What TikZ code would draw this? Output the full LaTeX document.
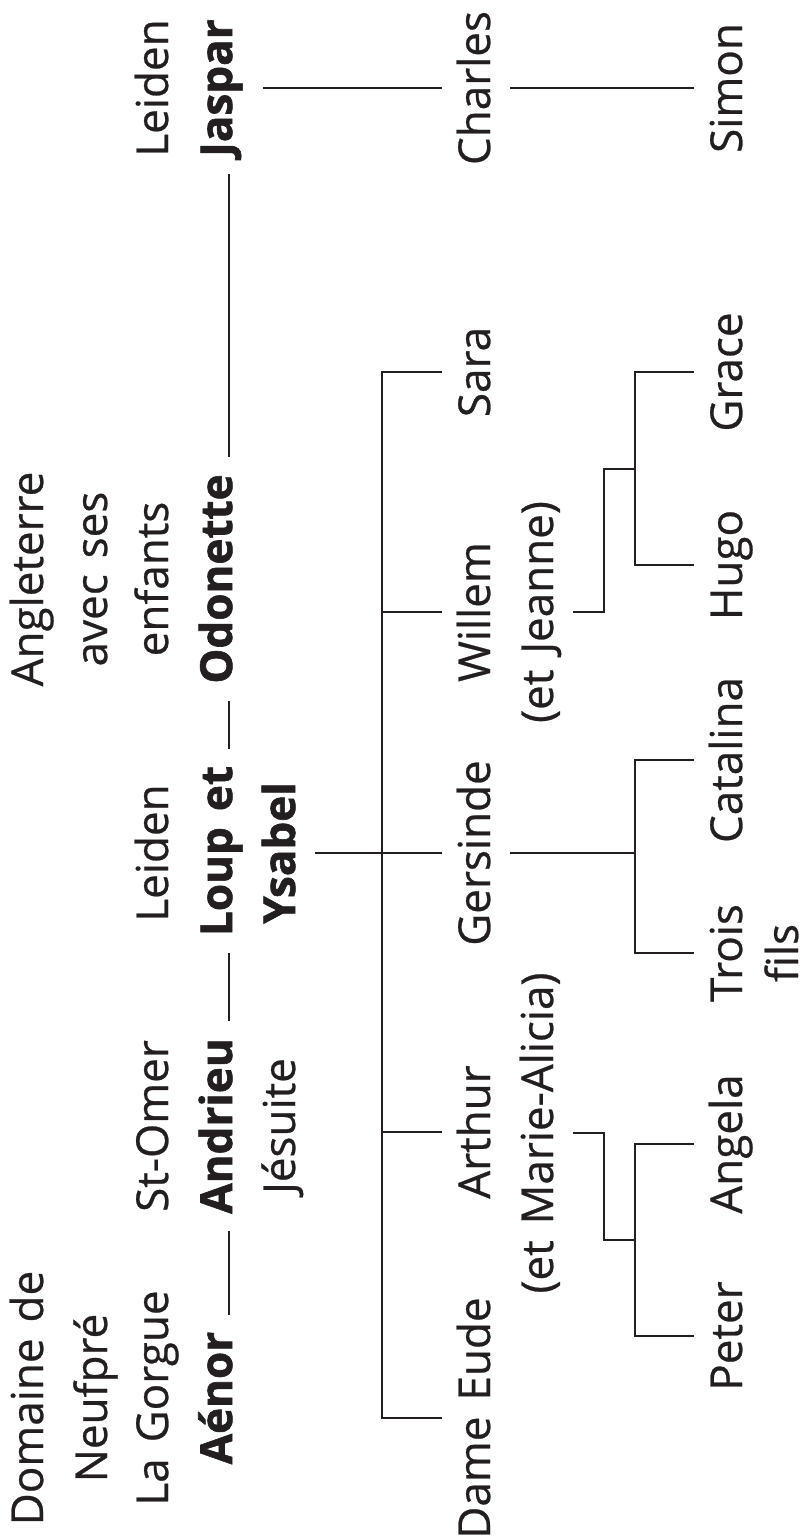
\documentclass[tikz,border=0pt]{standalone}
\usepackage{fontspec}
\setmainfont{Open Sans}[WordSpace=1.4,
  UprightFeatures={FakeBold=0.6}, BoldFeatures={FakeBold=1.4}]
\definecolor{ink}{HTML}{231F20}
\begin{document}
\begin{tikzpicture}[x=1pt,y=-1pt,
  every node/.style={font=\fontsize{44}{50}\selectfont, text=ink},
  nm/.style={rotate=90, anchor=base, inner xsep=17pt, inner ysep=10pt,
             text height=38pt, text depth=10pt},
  hd/.style={nm, font=\fontsize{44}{50}\selectfont\bfseries},
  lnk/.style={draw=ink, line width=2.2pt}]
\useasboundingbox (0,0) rectangle (808,1538);

% first generations, read along the long side
\node[nm] (dom)  at (43,1398)  {Domaine de};
\node[nm] (neuf) at (107,1398) {Neufpré};
\node[nm] (gorg) at (168,1398) {La Gorgue};
\node[hd] (aenor) at (232,1398) {Aénor};

\node[nm] (omer) at (168,1126) {St-Omer};
\node[hd] (andrieu) at (232,1126) {Andrieu};
\node[nm] (jes)  at (295,1126) {Jésuite};

\node[nm] (leid1) at (168,853) {Leiden};
\node[hd] (loup)  at (232,851) {Loup et};
\node[hd] (ysabel) at (295,853) {Ysabel};

\node[nm] (angl) at (43,579)  {Angleterre};
\node[nm] (avec) at (107,579) {avec ses};
\node[nm] (enf)  at (168,579) {enfants};
\node[hd] (odonette) at (232,579) {Odonette};

\node[nm] (leid2) at (168,88) {Leiden};
\node[hd, text depth=21pt] (jaspar) at (232,88) {Jaspar};

% children
\node[nm] (eude)     at (490,1418) {Dame Eude};
\node[nm] (arthur)   at (490,1132) {Arthur};
\node[nm] (marie)    at (553,1133) {(et Marie-Alicia)};
\node[nm] (gersinde) at (490,853)  {Gersinde};
\node[nm] (willem)   at (490,612)  {Willem};
\node[nm] (jeanne)   at (553,612)  {(et Jeanne)};
\node[nm] (sara)     at (490,372)  {Sara};
\node[nm] (charles)  at (490,88)   {Charles};

% grandchildren
\node[nm] (peter)    at (742,1336) {Peter};
\node[nm] (angela)   at (742,1144) {Angela};
\node[nm] (trois)    at (742,953)  {Trois};
\node[nm, text depth=2pt, inner ysep=2pt] (fils) at (798,953) {fils};
\node[nm] (catalina) at (742,760)  {Catalina};
\node[nm] (hugo)     at (742,565)  {Hugo};
\node[nm] (grace)    at (742,372)  {Grace};
\node[nm] (simon)    at (742,88)   {Simon};

% line of succession
\draw[lnk] (aenor.mid east) -- (andrieu.mid west);
\draw[lnk] (andrieu.mid east) -- (loup.mid west);
\draw[lnk] (loup.mid east) -- (odonette.mid west);
\draw[lnk] (odonette.mid east) -- (jaspar.mid west);
\draw[lnk] (jaspar.south) -- (charles.north);
\draw[lnk] (charles.south) -- (simon.north);

% children of Loup and Ysabel
\coordinate (trunk) at (382,853);
\draw[lnk] (sara.north) -| (trunk) |- (eude.north);
\draw[lnk] (willem.north) -| (trunk);
\draw[lnk] (arthur.north) -| (trunk);
\draw[lnk] (ysabel.south) -- (gersinde.north);

% children of Gersinde
\coordinate (gk) at (635,853);
\draw[lnk] (gersinde.south) -- (gk);
\draw[lnk] (catalina.north) -| (gk) |- (trois.north);

% children of Arthur
\coordinate (am) at (604,1240);
\coordinate (ak) at (635,1240);
\draw[lnk] (marie.south) -| (am) -- (ak);
\draw[lnk] (angela.north) -| (ak) |- (peter.north);

% children of Willem
\coordinate (wm) at (604,469);
\coordinate (wk) at (635,469);
\draw[lnk] (jeanne.south) -| (wm) -- (wk);
\draw[lnk] (grace.north) -| (wk) |- (hugo.north);
\end{tikzpicture}
\end{document}
